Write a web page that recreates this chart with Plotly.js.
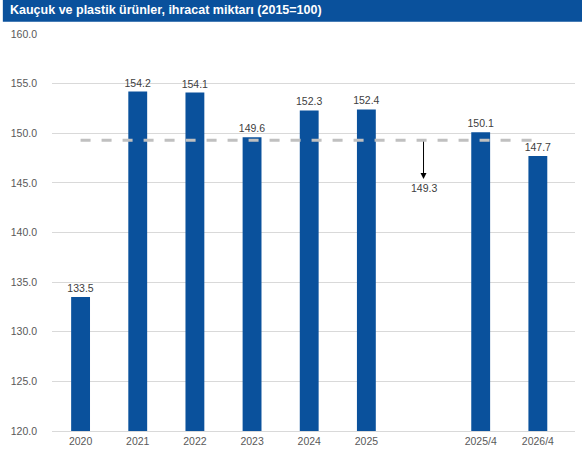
<!DOCTYPE html>
<html>
<head>
<meta charset="utf-8">
<script src="https://cdn.plot.ly/plotly-3.0.1.min.js"></script>
<style>html,body{margin:0;padding:0;background:#fff;}#chart{width:582px;height:452px;}</style>
</head>
<body>
<div id="chart"></div>
<script>
const categories = ['2020','2021','2022','2023','2024','2025',' ','2025/4','2026/4'];
const values = [133.5, 154.2, 154.1, 149.6, 152.3, 152.4, null, 150.1, 147.7];
const labels = ['133.5','154.2','154.1','149.6','152.3','152.4','','150.1','147.7'];
const averageValue = 149.3;
const averageLabel = '149.3';
const arrowTip = 145.4;
const yTicks = [120,125,130,135,140,145,150,155,160];
const titleText = 'Kauçuk ve plastik ürünler, ihracat miktarı (2015=100)';

const blue = '#0a519c';

const bars = {
  type: 'bar',
  x: categories,
  y: values,
  marker: {color: blue},
  width: 0.33,
  text: labels,
  textposition: 'outside',
  constraintext: 'none',
  textfont: {family: 'Liberation Sans, Arial', size: 10.5, color: '#404040'},
  cliponaxis: false,
  hoverinfo: 'skip'
};

const avgLine = {
  type: 'scatter', mode: 'lines',
  x: [categories[0], categories[categories.length - 1]],
  y: [averageValue, averageValue],
  line: {color: '#c0c0c0', width: 3, dash: '10px,11px'},
  hoverinfo: 'skip'
};

const layout = {
  width: 582, height: 452,
  margin: {l: 52, r: 7, t: 34, b: 21},
  paper_bgcolor: '#fff', plot_bgcolor: '#fff',
  showlegend: false,
  font: {family: 'Liberation Sans, Arial', size: 11, color: '#595959'},
  xaxis: {
    type: 'category',
    categoryorder: 'array', categoryarray: categories,
    range: [-0.5, 8.65],
    showgrid: false, showline: true, linecolor: '#d9d9d9', linewidth: 1,
    ticks: '', tickfont: {size: 10.5, color: '#595959'}
  },
  yaxis: {
    range: [120, 160], tickvals: yTicks,
    ticktext: yTicks.map(v => v.toFixed(1)),
    showgrid: true, gridcolor: '#d9d9d9', gridwidth: 1,
    zeroline: false, showline: false, ticks: '',
    tickfont: {size: 10.5, color: '#595959'}, ticklabelstandoff: 14
  },
  shapes: [
    {type: 'rect', xref: 'paper', yref: 'paper', x0: -0.094, x1: 1.02, y0: 1.031, y1: 1.09,
     fillcolor: blue, line: {width: 0}, layer: 'above'}
  ],
  annotations: [
    {xref: 'paper', yref: 'paper', x: -0.085, y: 1.06, xanchor: 'left', yanchor: 'middle',
     text: '<b>' + titleText + '</b>', showarrow: false,
     font: {family: 'Liberation Sans, Arial', size: 12.5, color: '#fff'}},
    {x: ' ', y: arrowTip, ax: ' ', ay: averageValue, axref: 'x', ayref: 'y', xref: 'x', yref: 'y',
     text: '', showarrow: true, arrowhead: 2, arrowsize: 1.2, arrowwidth: 1, arrowcolor: '#000'},
    {x: ' ', y: arrowTip, xref: 'x', yref: 'y', yanchor: 'top', text: averageLabel, showarrow: false,
     font: {size: 10.5, color: '#404040'}, yshift: -1}
  ]
};

Plotly.newPlot('chart', [bars, avgLine], layout, {staticPlot: true, displayModeBar: false});
</script>
</body>
</html>
